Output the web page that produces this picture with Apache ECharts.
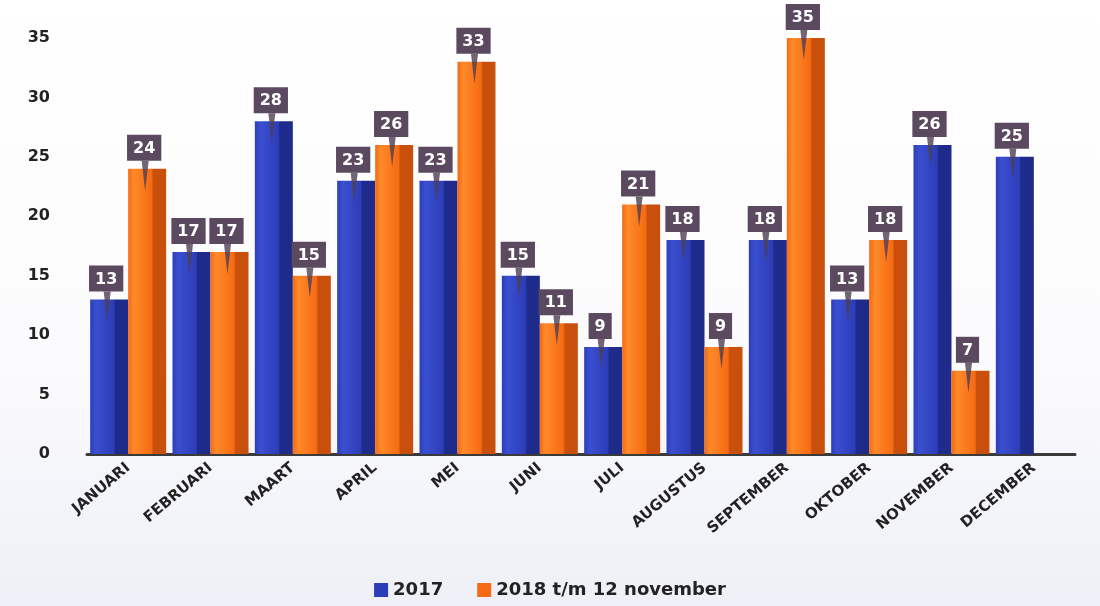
<!DOCTYPE html>
<html>
<head>
<meta charset="utf-8">
<script src="https://cdn.jsdelivr.net/npm/echarts@6/dist/echarts.min.js"></script>
<style>
  html, body { margin: 0; padding: 0; }
  #main { width: 1100px; height: 606px; }
</style>
</head>
<body>
<div id="main"></div>
<script>
var months = ['JANUARI', 'FEBRUARI', 'MAART', 'APRIL', 'MEI', 'JUNI', 'JULI',
    'AUGUSTUS', 'SEPTEMBER', 'OKTOBER', 'NOVEMBER', 'DECEMBER'];
var data2017 = [13, 17, 28, 23, 23, 15, 9, 18, 18, 13, 26, 25];
var data2018 = [24, 17, 15, 26, 33, 11, 21, 9, 35, 18, 7, null];
var yTicks = [0, 5, 10, 15, 20, 25, 30, 35];

var chartDom = document.getElementById('main');
var myChart = echarts.init(chartDom);

var BAR_W = 38;
var BOX = '#5b4a5f';

// horizontal gradient: front face + darker side, fake 3d
function face(light, mid, dark) {
    return new echarts.graphic.LinearGradient(0, 0, 1, 0, [
        {offset: 0, color: mid},
        {offset: 0.15, color: light},
        {offset: 0.62, color: mid},
        {offset: 0.66, color: dark},
        {offset: 1, color: dark}
    ]);
}

var boxLabel = {
    show: true,
    position: 'top',
    distance: 8,
    offset: [-3, 0],
    backgroundColor: BOX,
    color: '#ffffff',
    fontFamily: 'DejaVu Sans',
    fontWeight: 'bold',
    fontSize: 16,
    padding: [6, 6, 4, 6]
};

// the little pointer under each value box
function tail(name, data, dx) {
    return {
        name: name,
        type: 'scatter',
        symbol: 'triangle',
        symbolRotate: 180,
        symbolSize: [7, 30],
        symbolOffset: [dx, 7],
        itemStyle: {color: '#4e3f52'},
        silent: true,
        z: 5,
        data: data
    };
}

var option = {
    backgroundColor: new echarts.graphic.LinearGradient(0, 0, 0, 1, [
        {offset: 0, color: '#ffffff'},
        {offset: 0.6, color: '#fbfbfd'},
        {offset: 1, color: '#eef0f7'}
    ]),
    legend: {
        bottom: 2,
        left: 'center',
        itemWidth: 14,
        itemHeight: 14,
        itemGap: 34,
        icon: 'rect',
        textStyle: {
            color: '#222',
            fontFamily: 'DejaVu Sans',
            fontWeight: 'bold',
            fontSize: 18
        },
        data: [
            {name: '2017', itemStyle: {color: '#2c3db8'}},
            {name: '2018 t/m 12 november', itemStyle: {color: '#f56a12'}}
        ]
    },
    grid: {
        left: 87,
        right: 25,
        top: 38,
        bottom: 152
    },
    xAxis: {
        type: 'category',
        data: months,
        axisLine: {lineStyle: {color: '#3a3a3a', width: 3}},
        axisTick: {show: false},
        axisLabel: {
            rotate: 40,
            margin: 12,
            color: '#222',
            fontFamily: 'DejaVu Sans',
            fontWeight: 'bold',
            fontSize: 15
        }
    },
    yAxis: {
        type: 'value',
        min: yTicks[0],
        max: yTicks[yTicks.length - 1],
        interval: 5,
        splitLine: {show: false},
        axisLine: {show: false},
        axisTick: {show: false},
        axisLabel: {
            margin: 37,
            color: '#222',
            fontFamily: 'DejaVu Sans',
            fontWeight: 'bold',
            fontSize: 16
        }
    },
    series: [
        {
            name: '2017',
            type: 'bar',
            barWidth: BAR_W,
            barGap: '0%',
            itemStyle: {color: face('#3a4fd0', '#2c3db8', '#1f2b8a')},
            label: boxLabel,
            data: data2017
        },
        {
            name: '2018 t/m 12 november',
            type: 'bar',
            barWidth: BAR_W,
            barGap: '0%',
            itemStyle: {color: face('#ff8a2a', '#f56a12', '#c9500c')},
            label: boxLabel,
            data: data2018
        },
        tail('tail2017', data2017, -BAR_W / 2 - 2),
        tail('tail2018', data2018, BAR_W / 2 - 2)
    ]
};

myChart.setOption(option);
</script>
</body>
</html>
